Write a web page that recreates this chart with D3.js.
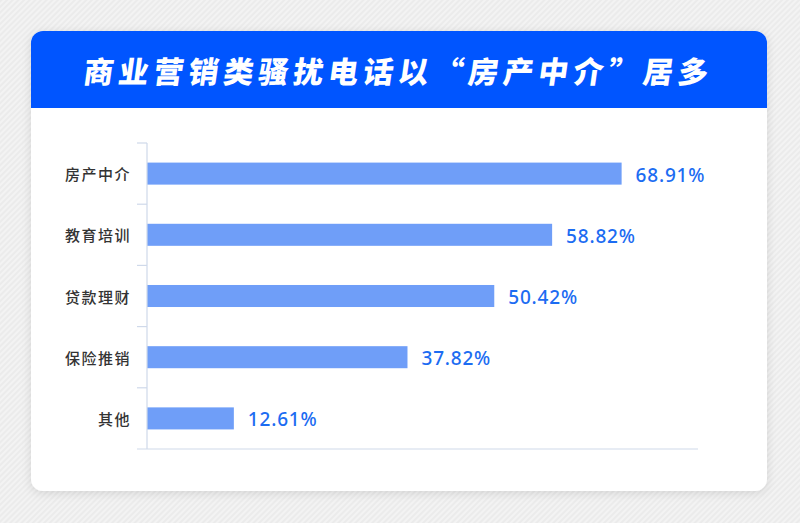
<!DOCTYPE html>
<html>
<head>
<meta charset="utf-8">
<script src="https://cdn.jsdelivr.net/npm/d3@7"></script>
<style>
  html, body { margin: 0; padding: 0; }
  body { width: 800px; height: 523px; overflow: hidden; }
</style>
</head>
<body>
<div id="plt"></div>
<script>
// chart data
const title = "商业营销类骚扰电话以“房产中介”居多";
const categories = ["房产中介", "教育培训", "贷款理财", "保险推销", "其他"];
const values = [68.91, 58.82, 50.42, 37.82, 12.61];

const W = 800, H = 523;
const card = { x: 31, y: 31, w: 736, h: 460, r: 12, head: 77 };

const svg = d3.select("#plt")
    .append("svg")
    .attr("width", W)
    .attr("height", H);

const defs = svg.append("defs");

// striped grey backdrop
const pat = defs.append("pattern")
    .attr("id", "stripes")
    .attr("width", 4)
    .attr("height", 4)
    .attr("patternUnits", "userSpaceOnUse")
    .attr("patternTransform", "rotate(45)");
pat.append("rect").attr("width", 4).attr("height", 4).attr("fill", "#f3f3f3");
pat.append("rect").attr("width", 2).attr("height", 4).attr("fill", "#ebebeb");

const shadow = defs.append("filter")
    .attr("id", "shadow")
    .attr("x", "-10%").attr("y", "-10%")
    .attr("width", "120%").attr("height", "120%");
shadow.append("feDropShadow")
    .attr("dx", 0).attr("dy", 2)
    .attr("stdDeviation", 5)
    .attr("flood-color", "#000")
    .attr("flood-opacity", 0.12);

defs.append("clipPath").attr("id", "cardClip")
  .append("rect")
    .attr("x", card.x).attr("y", card.y)
    .attr("width", card.w).attr("height", card.h)
    .attr("rx", card.r);

svg.append("rect")
    .attr("width", W).attr("height", H)
    .attr("fill", "url(#stripes)");

// white card + blue header
svg.append("rect")
    .attr("x", card.x).attr("y", card.y)
    .attr("width", card.w).attr("height", card.h)
    .attr("rx", card.r)
    .attr("fill", "#fff")
    .attr("filter", "url(#shadow)");

svg.append("rect")
    .attr("clip-path", "url(#cardClip)")
    .attr("x", card.x).attr("y", card.y)
    .attr("width", card.w).attr("height", card.head)
    .attr("fill", "#0055ff");

svg.append("text")
    .attr("x", card.x + card.w / 2)
    .attr("y", card.y + card.head / 2 + 1)
    .attr("text-anchor", "middle")
    .attr("dominant-baseline", "central")
    .attr("fill", "#fff")
    .style("font-family", "'Noto Sans CJK SC', sans-serif")
    .style("font-weight", 900)
    .style("font-size", "30px")
    .style("letter-spacing", "5px")
    .attr("transform", `skewX(-8) translate(${(card.y + card.head / 2) * Math.tan(8 * Math.PI / 180)},0)`)
    .text(title);

// scales
const x = d3.scaleLinear()
    .domain([0, 80])
    .range([147, 698]);

const y = d3.scaleBand()
    .domain(categories)
    .range([143, 449])
    .paddingInner(0.64)
    .paddingOuter(0.32);

const axisColor = "#cfd9ea";
const g = svg.append("g");

// bars
g.selectAll("rect.bar")
    .data(categories)
    .enter()
    .append("rect")
    .attr("class", "bar")
    .attr("x", x(0))
    .attr("y", d => y(d))
    .attr("width", (d, i) => x(values[i]) - x(0))
    .attr("height", y.bandwidth())
    .attr("fill", "#6f9ef8");

// value labels
g.selectAll("text.val")
    .data(categories)
    .enter()
    .append("text")
    .attr("class", "val")
    .attr("x", (d, i) => x(values[i]) + 14)
    .attr("y", d => y(d) + y.bandwidth() / 2 + 1)
    .attr("dominant-baseline", "central")
    .attr("fill", "#1c6cf2")
    .style("font-family", "'Noto Sans', sans-serif")
    .style("font-weight", 500)
    .style("font-size", "19px")
    .style("letter-spacing", "0.8px")
    .text((d, i) => values[i].toFixed(2) + "%");

// left axis: line + ticks between bands
const step = y.step();
const bounds = categories.map(d => y(d) - step * y.paddingInner() / 2);

g.append("line")
    .attr("x1", x(0)).attr("x2", x(0))
    .attr("y1", y.range()[0]).attr("y2", y.range()[1])
    .attr("stroke", axisColor)
    .attr("stroke-width", 1.2);

g.selectAll("line.tick")
    .data(bounds)
    .enter()
    .append("line")
    .attr("class", "tick")
    .attr("x1", x(0) - 10).attr("x2", x(0))
    .attr("y1", d => d).attr("y2", d => d)
    .attr("stroke", axisColor)
    .attr("stroke-width", 1.2);

// bottom axis line
g.append("line")
    .attr("x1", x(0) - 10).attr("x2", x.range()[1])
    .attr("y1", y.range()[1]).attr("y2", y.range()[1])
    .attr("stroke", axisColor)
    .attr("stroke-width", 1.2);

// category labels
g.selectAll("text.cat")
    .data(categories)
    .enter()
    .append("text")
    .attr("class", "cat")
    .attr("x", x(0) - 16)
    .attr("y", d => y(d) + y.bandwidth() / 2)
    .attr("text-anchor", "end")
    .attr("dominant-baseline", "central")
    .attr("fill", "#333")
    .style("font-family", "'Noto Sans CJK SC', sans-serif")
    .style("font-weight", 500)
    .style("font-size", "15px")
    .style("letter-spacing", "1.5px")
    .text(d => d);
</script>
</body>
</html>
